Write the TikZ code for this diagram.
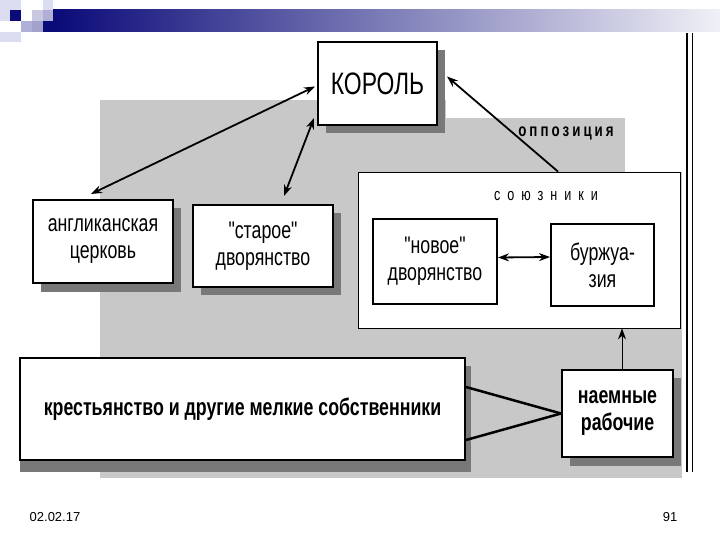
\documentclass[tikz,border=0pt]{standalone}
\usepackage{fontspec}
\setmainfont{Liberation Sans}[FakeStretch=0.74,Ligatures=TeXOff]
\newfontfamily\footf{Liberation Sans}
\usetikzlibrary{arrows.meta,calc}
\definecolor{navy}{RGB}{10,10,120}
\definecolor{palel}{RGB}{220,220,240}
\definecolor{lav}{RGB}{175,175,215}
\definecolor{lavg}{RGB}{200,200,225}
\definecolor{stip}{RGB}{200,200,200}
\definecolor{shad}{RGB}{120,120,120}
\begin{document}
\begin{tikzpicture}[x=1pt,y=-1pt,
  box/.style={draw=black,line width=2pt,fill=white,inner sep=2pt,align=center,font=\fontsize{24}{27}\selectfont},
  bbox/.style={box,font=\fontsize{24}{27}\selectfont\bfseries},
  conn/.style={line width=1.8pt,draw=black},
  tip/.style={-{Stealth[length=11pt,width=8pt]}},
  tips/.style={{Stealth[length=11pt,width=8pt]}-{Stealth[length=11pt,width=8pt]}}
]
\useasboundingbox (0,0) rectangle (720,540);
% header decoration
\fill[palel] (0,0) rectangle (21,10);
\fill[palel] (43,0) rectangle (53,10);
\fill[palel] (0,10) rectangle (10,21);
\fill[navy] (10,10) rectangle (21,21);
\fill[lavg] (32,10) rectangle (43,21);
\fill[lav] (43,10) rectangle (53,21);
\fill[lav] (21,21) rectangle (32,32);
\fill[lavg!80!navy] (32,21) rectangle (43,32);
\fill[palel] (0,32) rectangle (21,42);
\shade[left color=navy,right color=navy!6] (53,10) rectangle (720,32);
\fill[navy] (43,21) rectangle (53,32);
% stippled background
\fill[stip] (100,100) rectangle (446,172);
\fill[stip] (446,118) rectangle (625,172);
\fill[stip] (100,172) rectangle (682,478);
% right rule
\draw[line width=2pt] (687,33) -- (687,472);
\draw[line width=0.8pt] (692,33) -- (692,472);
% shadows
\fill[shad] (326,50) rectangle (445,133);
\fill[shad] (41,208) rectangle (181,292);
\fill[shad] (201,213) rectangle (341,295);
\fill[shad] (381,227) rectangle (505,312);
\fill[shad] (559,232) rectangle (662,314);
\fill[shad] (20,366) rectangle (471,472);
\fill[shad] (570,378) rectangle (681,466);
% container
\node[draw=black,line width=0.8pt,fill=white,minimum width=322pt,minimum height=156pt,inner sep=0pt] (soyuz) at (519,250) {};
\node[font=\fontsize{17}{19}\selectfont] (soyuzlbl) at (546,196) {с\ \ о\ \ ю\ \ з\ \ н\ \ и\ \ к\ \ и};
% boxes
\node[box,minimum width=119pt,minimum height=83pt,font=\fontsize{31}{34}\selectfont] (korol) at (377.5,83.5) {КОРОЛЬ};
\node[box,minimum width=140pt,minimum height=83pt] (angl) at (103,241.5) {англиканская\\церковь};
\node[box,minimum width=140pt,minimum height=82pt] (staroe) at (263,246) {"старое"\\дворянство};
\node[box,minimum width=124pt,minimum height=85pt] (novoe) at (435,261.5) {"новое"\\дворянство};
\node[box,minimum width=103pt,minimum height=82pt] (burzh) at (602.5,265) {буржуа-\\зия};
\node[bbox,minimum width=445pt,minimum height=102pt] (kresty) at (242.5,409) {крестьянство и другие мелкие собственники};
\node[bbox,minimum width=111pt,minimum height=87pt] (naem) at (617.5,413.5) {наемные\\рабочие};
\node[font=\fontsize{18}{20}\selectfont\bfseries] (opp) at (566,133) {о\,п\,п\,о\,з\,и\,ц\,и\,я};
% connectors
\draw[conn,tips] ($(korol.west)+(-2,3)$) -- ($(angl.north)+(-12,-5)$);
\draw[conn,tips] ($(korol.south west)+(-3,-8)$) -- ($(staroe.north)+(21,-8)$);
\draw[conn,tip] ($(soyuz.north)+(39,0)$) -- ($(korol.east)+(9,-7)$);
\draw[conn,tips] ($(novoe.east)+(0,-4)$) -- ($(burzh.west)+(0,-8)$);
\draw[line width=1pt,tip] ($(naem.north)+(4.5,0)$) -- ($(soyuz.south)+(103,0)$);
\draw[line width=2.5pt] ($(kresty.east)+(0,-22)$) -- (naem.west);
\draw[line width=2.5pt] ($(kresty.east)+(0,31)$) -- (naem.west);
% footer
\node[font=\footf\fontsize{13}{15}\selectfont] (date) at (55,517) {02.02.17};
\node[font=\footf\fontsize{13}{15}\selectfont] (page) at (670,517) {91};
\end{tikzpicture}
\end{document}
